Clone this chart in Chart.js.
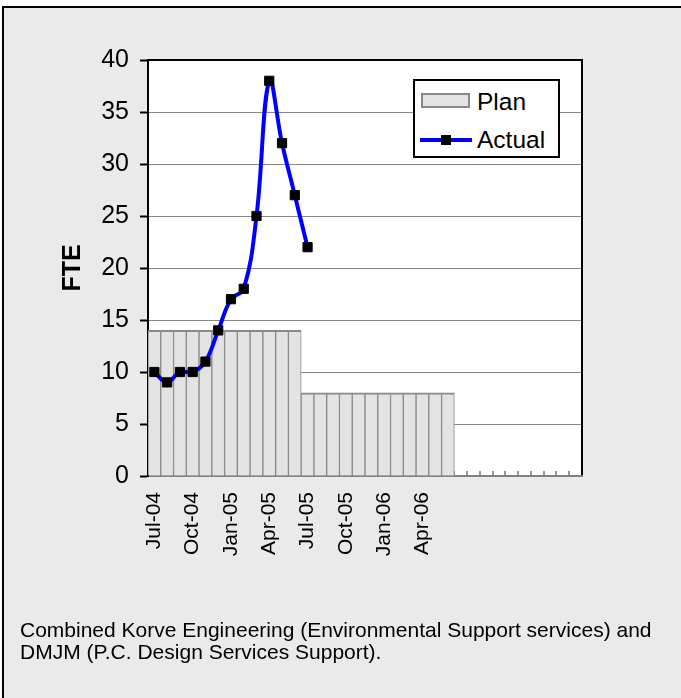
<!DOCTYPE html>
<html>
<head>
<meta charset="utf-8">
<script src="https://cdn.jsdelivr.net/npm/chart.js@4.4.0/dist/chart.umd.min.js"></script>
<style>
  html, body { margin: 0; padding: 0; background: #ffffff; width: 681px; height: 698px; overflow: hidden; }
  body { position: relative; font-family: 'Liberation Sans', Arial, sans-serif; }
  #frame { position: absolute; left: 2px; top: 6px; width: 720px; height: 720px;
           border-left: 2px solid #000; border-top: 2px solid #000; background: #eaeaea; }
  #c { position: absolute; left: 0; top: 0; }
  #legend { position: absolute; left: 413px; top: 79px; width: 143px; height: 75px;
            background: #fff; border: 2px solid #000; }
  .lrow { position: absolute; left: 0; height: 30px; width: 143px; }
  .ltext { position: absolute; left: 62px; top: 0; line-height: 30px; font-size: 24.5px; color: #000; white-space: nowrap; }
  .swRect { position: absolute; left: 6px; top: 6px; width: 45px; height: 11px; background: #e3e3e3; border: 2px solid #888; }
  .swLine { position: absolute; left: 5px; top: 13px; width: 52px; height: 4px; background: #0000ff; }
  .swMark { position: absolute; left: 26px; top: 10px; width: 10px; height: 10px; background: #000; }
  #caption { position: absolute; left: 20px; top: 619px; font-size: 21px; line-height: 22px; color: #000; white-space: nowrap; }
</style>
</head>
<body>
<div id="frame"></div>
<canvas id="c" width="681" height="698"></canvas>
<div id="legend">
  <div class="lrow" style="top:6px"><div class="swRect"></div><div class="ltext" id="lg0"></div></div>
  <div class="lrow" style="top:44px"><div class="swLine"></div><div class="swMark"></div><div class="ltext" id="lg1"></div></div>
</div>
<div id="caption">Combined Korve Engineering (Environmental Support services) and<br>DMJM (P.C. Design Services Support).</div>
<script>
const months = ['Jul-04','Aug-04','Sep-04','Oct-04','Nov-04','Dec-04','Jan-05','Feb-05','Mar-05','Apr-05','May-05','Jun-05',
                'Jul-05','Aug-05','Sep-05','Oct-05','Nov-05','Dec-05','Jan-06','Feb-06','Mar-06','Apr-06','May-06','Jun-06',
                'Jul-06','Aug-06','Sep-06','Oct-06','Nov-06','Dec-06','Jan-07','Feb-07','Mar-07','Apr-07'];
const shownTicks = ['Jul-04','Oct-04','Jan-05','Apr-05','Jul-05','Oct-05','Jan-06','Apr-06'];
const planValues = [14,14,14,14,14,14,14,14,14,14,14,14,
                    8,8,8,8,8,8,8,8,8,8,8,8,
                    0,0,0,0,0,0,0,0,0,0];
const actualValues = [10,9,10,10,11,14,17,18,25,38,32,27,22,
                      null,null,null,null,null,null,null,null,null,null,null,
                      null,null,null,null,null,null,null,null,null,null];
const seriesNames = ['Plan','Actual'];
const yTicks = { min: 0, max: 40, step: 5 };

document.getElementById('lg0').textContent = seriesNames[0];
document.getElementById('lg1').textContent = seriesNames[1];

const FONT = "'Liberation Sans', Arial, sans-serif";

const areaPlugin = {
  id: 'areaPlugin',
  beforeDraw(chart) {
    const a = chart.chartArea, ctx = chart.ctx;
    ctx.save();
    ctx.fillStyle = '#ffffff';
    ctx.fillRect(a.left, a.top, a.right - a.left, a.bottom - a.top);
    ctx.restore();
  },
  afterDraw(chart) {
    const a = chart.chartArea, ctx = chart.ctx;
    ctx.save();
    ctx.strokeStyle = '#000';
    ctx.lineWidth = 2;
    ctx.beginPath();
    ctx.moveTo(a.left, a.top);
    ctx.lineTo(a.right, a.top);
    ctx.lineTo(a.right, a.bottom - 1);
    ctx.stroke();
    ctx.restore();
  }
};

new Chart(document.getElementById('c'), {
  data: {
    labels: months,
    datasets: [
      {
        type: 'line', label: seriesNames[1], data: actualValues, order: 0,
        borderColor: '#0000ff', borderWidth: 4, tension: 0.4,
        pointStyle: 'rect', pointRadius: 6.5, pointBackgroundColor: '#000', pointBorderColor: '#000', pointBorderWidth: 1,
        spanGaps: false
      },
      {
        type: 'bar', label: seriesNames[0], data: planValues, order: 1,
        backgroundColor: '#e3e3e3', borderColor: '#888888',
        borderWidth: { top: 2, left: 1, right: 1, bottom: 0 },
        barPercentage: 1, categoryPercentage: 1
      }
    ]
  },
  options: {
    responsive: false, animation: false, devicePixelRatio: 1,
    layout: { padding: { left: 58, top: 60, right: 99, bottom: 92 } },
    plugins: { legend: { display: false }, tooltip: { enabled: false } },
    scales: {
      x: {
        type: 'category', offset: true,
        grid: { offset: true, drawOnChartArea: false, drawTicks: true, tickLength: -5, color: '#999999', lineWidth: 2 },
        border: { color: '#808080', width: 2 },
        ticks: {
          autoSkip: false, maxRotation: 90, minRotation: 90, padding: 21,
          font: { family: FONT, size: 21 }, color: '#000',
          callback: function(val) { const l = this.getLabelForValue(val); return shownTicks.includes(l) ? l : ''; }
        },
        afterFit(scale) { scale.height = 130; }
      },
      y: {
        min: yTicks.min, max: yTicks.max,
        grid: { color: '#888888', lineWidth: 1, tickLength: 8, tickColor: '#000', tickWidth: 2 },
        border: { color: '#000', width: 2 },
        ticks: { stepSize: yTicks.step, padding: 11, font: { family: FONT, size: 25 }, color: '#000' },
        title: { display: true, text: 'FTE', font: { family: FONT, size: 25, weight: 'bold' }, color: '#000', padding: 0 },
        afterFit(scale) { scale.width = 90; }
      }
    }
  },
  plugins: [areaPlugin]
});
</script>
</body>
</html>
